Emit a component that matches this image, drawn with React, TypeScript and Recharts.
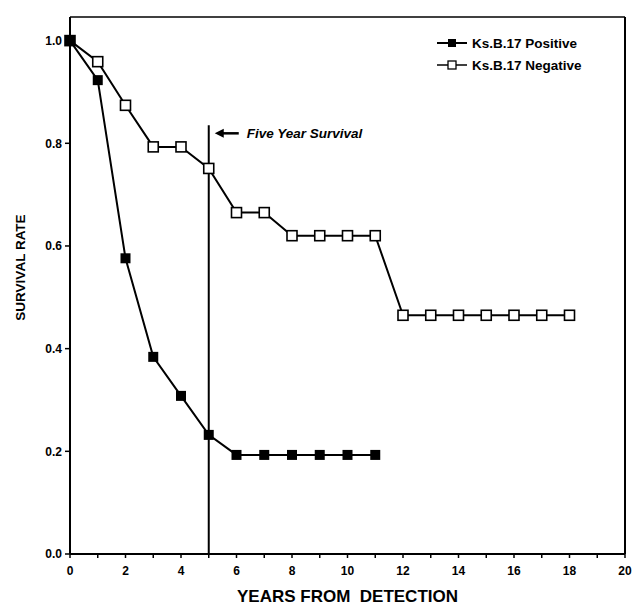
import React from 'react';
import { LineChart, Line, XAxis, YAxis, ReferenceLine } from 'recharts';

const years = [0, 1, 2, 3, 4, 5, 6, 7, 8, 9, 10, 11, 12, 13, 14, 15, 16, 17, 18];
const positive = [1.0, 0.923, 0.576, 0.384, 0.308, 0.232, 0.193, 0.193, 0.193, 0.193, 0.193, 0.193];
const negative = [1.0, 0.959, 0.874, 0.793, 0.793, 0.751, 0.665, 0.665, 0.62, 0.62, 0.62, 0.62, 0.465, 0.465, 0.465, 0.465, 0.465, 0.465, 0.465];
const xTicks = [0, 1, 2, 3, 4, 5, 6, 7, 8, 9, 10, 11, 12, 13, 14, 15, 16, 17, 18, 19, 20];
const yTicks = [0, 0.2, 0.4, 0.6, 0.8, 1.0];
const seriesNames = ['Ks.B.17 Positive', 'Ks.B.17 Negative'];
const fiveYear = 5;
const fiveYearTop = 0.835;
const annotation = 'Five Year Survival';
const yTitle = 'SURVIVAL RATE';
const xTitle = 'YEARS FROM\u00A0 DETECTION';
const Y_MAX = 1.046;

const data = years.map((y, i) => ({
  year: y,
  pos: i < positive.length ? positive[i] : null,
  neg: negative[i],
}));

const FONT = '"Liberation Sans", Arial, Helvetica, sans-serif';

const FilledSquare = (props: any) => {
  const { cx, cy, value } = props;
  if (value == null || cx == null || cy == null) return <g key={props.key} />;
  return <rect key={props.key} x={cx - 5} y={cy - 5} width={10} height={10} fill="#000" />;
};

const OpenSquare = (props: any) => {
  const { cx, cy, value } = props;
  if (value == null || cx == null || cy == null) return <g key={props.key} />;
  return <rect key={props.key} x={cx - 5} y={cy - 5} width={10} height={10} fill="#fff" stroke="#000" strokeWidth={1.6} />;
};

const LegendBox = () => (
  <svg width={200} height={50} style={{ display: 'block' }}>
    <g>
      <line x1={2} y1={9} x2={32} y2={9} stroke="#000" strokeWidth={2} />
      <rect x={13} y={5} width={8} height={8} fill="#000" />
      <text x={37} y={14} fontFamily={FONT} fontWeight="bold" fontSize={13.5} fill="#000">{seriesNames[0]}</text>
    </g>
    <g>
      <line x1={2} y1={31} x2={32} y2={31} stroke="#000" strokeWidth={1.5} />
      <rect x={13} y={27} width={8} height={8} fill="#fff" stroke="#000" strokeWidth={1.3} />
      <text x={37} y={36} fontFamily={FONT} fontWeight="bold" fontSize={13.5} fill="#000">{seriesNames[1]}</text>
    </g>
  </svg>
);

const FiveYearLabel = (props: any) => {
  const vb = props.viewBox || {};
  const x = vb.x ?? 0;
  const y = (vb.y ?? 0) + 8;
  return (
    <g>
      <line x1={x + 12} y1={y} x2={x + 30} y2={y} stroke="#000" strokeWidth={2.5} />
      <polygon points={`${x + 6},${y} ${x + 15},${y - 4.5} ${x + 15},${y + 4.5}`} fill="#000" />
      <text x={x + 38} y={y + 5} fontFamily={FONT} fontWeight="bold" fontStyle="italic" fontSize={13.5} fill="#000">{annotation}</text>
    </g>
  );
};

const YTitle = (props: any) => {
  const vb = props.viewBox || {};
  const cx = 20;
  const cy = (vb.y ?? 0) + (vb.height ?? 0) / 2 - 18;
  return (
    <text
      x={cx}
      y={cy}
      transform={`rotate(-90, ${cx}, ${cy})`}
      textAnchor="middle"
      dominantBaseline="central"
      fontFamily={FONT}
      fontWeight="bold"
      fontSize={13.5}
      fill="#000"
    >
      {yTitle}
    </text>
  );
};

export default function App() {
  return (
    <div style={{ position: 'absolute', left: 0, top: 0, width: 633, height: 606, background: '#fff' }}>
      <LineChart width={633} height={606} data={data} margin={{ top: 17, right: 8, left: 10, bottom: 22 }}>
        <XAxis
          dataKey="year"
          type="number"
          domain={[0, 20]}
          ticks={xTicks}
          interval={0}
          tickFormatter={(v: number) => (v % 2 === 0 ? String(v) : '')}
          axisLine={{ stroke: '#000', strokeWidth: 2 }}
          tickLine={{ stroke: '#000', strokeWidth: 1.5 }}
          tickSize={4}
          tickMargin={8}
          height={30}
          tick={{ fontFamily: FONT, fontWeight: 'bold', fontSize: 12, fill: '#000' }}
          label={{ value: xTitle, position: 'insideBottom', offset: -18, style: { fontFamily: FONT, fontWeight: 'bold', fontSize: 17, fill: '#000' } }}
        />
        <YAxis
          type="number"
          domain={[0, Y_MAX]}
          ticks={yTicks}
          interval={0}
          tickFormatter={(v: number) => v.toFixed(1)}
          axisLine={{ stroke: '#000', strokeWidth: 2 }}
          tickLine={{ stroke: '#000', strokeWidth: 1.5 }}
          tickSize={5}
          tickMargin={3}
          width={60}
          tick={{ fontFamily: FONT, fontWeight: 'bold', fontSize: 12, fill: '#000' }}
          label={<YTitle />}
        />
        <ReferenceLine y={Y_MAX} stroke="#000" strokeWidth={1.5} />
        <ReferenceLine x={20} stroke="#000" strokeWidth={2} />
        <ReferenceLine
          segment={[{ x: fiveYear, y: 0 }, { x: fiveYear, y: fiveYearTop }]}
          stroke="#000"
          strokeWidth={2}
          label={<FiveYearLabel />}
        />
        <Line
          dataKey="neg"
          name={seriesNames[1]}
          stroke="#000"
          strokeWidth={2}
          dot={<OpenSquare />}
          activeDot={false}
          isAnimationActive={false}
          type="linear"
        />
        <Line
          dataKey="pos"
          name={seriesNames[0]}
          stroke="#000"
          strokeWidth={2}
          dot={<FilledSquare />}
          activeDot={false}
          isAnimationActive={false}
          type="linear"
          connectNulls={false}
        />
      </LineChart>
      <div style={{ position: 'absolute', left: 435, top: 34 }}>
        <LegendBox />
      </div>
    </div>
  );
}
